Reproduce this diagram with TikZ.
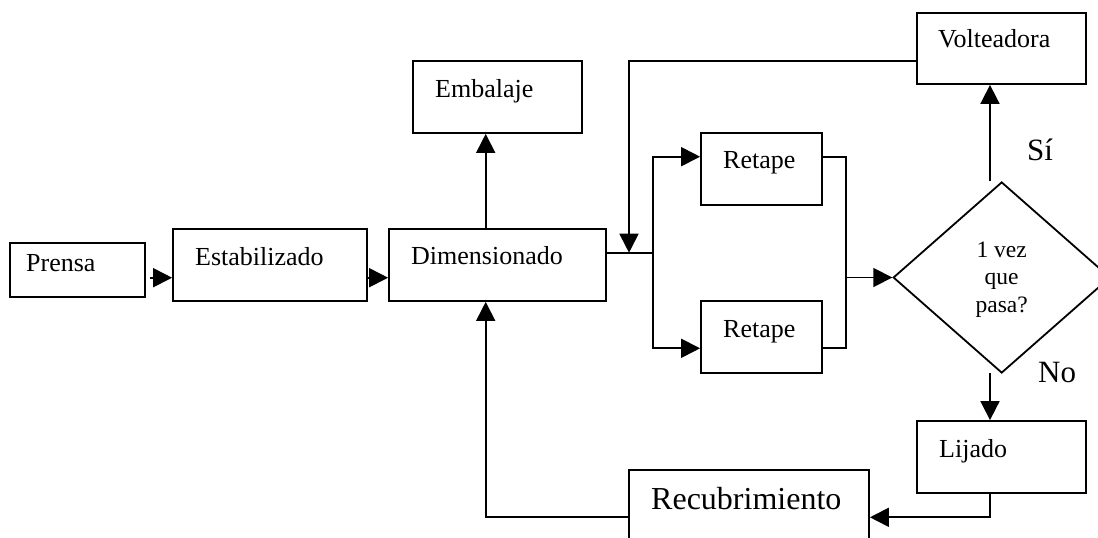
\documentclass[tikz,border=0pt]{standalone}
\usepackage{fontspec}
\setmainfont{Liberation Serif}
\usetikzlibrary{arrows.meta,shapes.geometric,fit}

\tikzset{
  box/.style={draw, line width=1.8pt, inner sep=0pt, rectangle},
  lbl/.style={font=\fontsize{26}{30}\selectfont, inner sep=0pt, anchor=base west},
  biglbl/.style={font=\fontsize{32}{36}\selectfont, inner sep=0pt, anchor=base west},
  answer/.style={font=\fontsize{31}{35}\selectfont, inner sep=0pt, anchor=base west},
  conn/.style={line width=1.8pt},
  arr/.style={line width=1.8pt, -{Triangle[length=19pt,width=19pt]}},
}

\begin{document}
\begin{tikzpicture}[x=1pt, y=-1pt]
  \useasboundingbox (0,0) rectangle (1098,538);
  \clip (0,0) rectangle (1098,538);

  % process boxes
  \node[box, fit={(10,243) (145,297)}]   (prensa) {};
  \node[box, fit={(173,229) (367,301)}]  (estab)  {};
  \node[box, fit={(389,229) (606,301)}]  (dim)    {};
  \node[box, fit={(413,61) (582,133)}]   (emb)    {};
  \node[box, fit={(701,133) (822,205)}]  (ret1)   {};
  \node[box, fit={(701,301) (822,373)}]  (ret2)   {};
  \node[box, fit={(917,13) (1086,84)}]   (volt)   {};
  \node[box, fit={(917,421) (1086,493)}] (lij)    {};
  \node[box, fit={(629,470) (869,570)}]  (recub)  {};

  % decision
  \node[draw, diamond, line width=1.8pt, inner sep=0pt,
        minimum width=217pt, minimum height=191pt] (test) at (1001.7,277.5) {};

  % box texts
  \node[lbl] (tprensa) at (26,271)  {Prensa};
  \node[lbl] (testab)  at (195,265) {Estabilizado};
  \node[lbl] (tdim)    at (411,264) {Dimensionado};
  \node[lbl] (temb)    at (435,97)  {Embalaje};
  \node[lbl] (tret1)   at (723,168) {Retape};
  \node[lbl] (tret2)   at (723,337) {Retape};
  \node[lbl] (tvolt)   at (938,47)  {Volteadora};
  \node[lbl] (tlij)    at (939,457) {Lijado};
  \node[biglbl] (trecub) at (651,509.5) {Recubrimiento};
  % the base anchor of a multi-line node sits on its last line
  \node[font=\fontsize{23.5}{27.5}\selectfont, align=center, inner sep=0pt,
        anchor=base] (ttest) at (1001.7,312) {1 vez\\que\\pasa?};
  \node[answer] (tsi) at (1027,160) {Sí};
  \node[answer] (tno) at (1038,382) {No};

  % routing points
  \coordinate (rowA)  at (0,277.7);
  \coordinate (colE)  at (485.7,0);
  \coordinate (split) at (653,252.7);
  \coordinate (join)  at (629,252.7);
  \coordinate (up)    at (653,156.7);
  \coordinate (dn)    at (653,348.3);
  \coordinate (mtop)  at (846,156.7);
  \coordinate (mbot)  at (846,348.3);
  \coordinate (merge) at (846,277.5);
  \coordinate (vback) at (629,61);
  \coordinate (yes)   at (990,181);
  \coordinate (no)    at (990,373);
  \coordinate (lturn) at (990,517.3);
  \coordinate (rturn) at (485.7,517.3);

  % main line
  \draw[arr] ([xshift=4pt]prensa.east |- rowA) -- (estab.west |- rowA);
  \draw[arr] (estab.east |- rowA) -- (dim.west |- rowA);
  \draw[arr] (dim.north -| colE) -- (emb.south -| colE);

  % parallel retape stations
  \draw[conn] (dim.east |- split) -- (split);
  \draw[arr] (split) -- (up) -- (ret1.west |- up);
  \draw[arr] (split) -- (dn) -- (ret2.west |- dn);
  \draw[conn] (ret1.east |- mtop) -- (mtop) -- (mbot) -- (ret2.east |- mbot);
  \draw[arr] (merge) -- (test.west);

  % decision outputs
  \draw[arr] (yes) -- (volt.south -| yes);
  \draw[arr] (volt.west |- vback) -- (vback) -- (join);
  \draw[arr] (no) -- (lij.north -| no);
  \draw[arr] (lij.south -| lturn) -- (lturn) -- (recub.east |- lturn);
  \draw[arr] (recub.west |- rturn) -- (rturn) -- (dim.south -| rturn);
\end{tikzpicture}
\end{document}
